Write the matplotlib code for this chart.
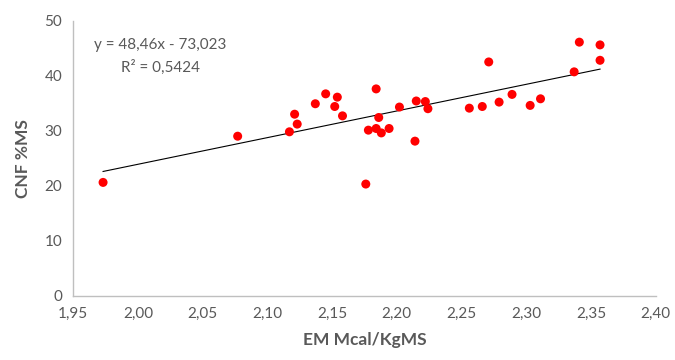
import matplotlib
matplotlib.use('Agg')
import matplotlib.pyplot as plt
import numpy as np

plt.rcParams['font.family'] = ['Lato', 'DejaVu Sans']

# EM (Mcal/kg MS) vs CNF (% MS)
em = [1.973, 2.077, 2.117, 2.123, 2.121, 2.137, 2.145, 2.154, 2.152, 2.158,
      2.176, 2.178, 2.184, 2.184, 2.186, 2.188, 2.194, 2.202, 2.214, 2.215,
      2.222, 2.224, 2.256, 2.266, 2.271, 2.279, 2.289, 2.303, 2.311, 2.337,
      2.341, 2.357, 2.357]
cnf = [20.6, 29.0, 29.8, 31.2, 33.0, 34.9, 36.7, 36.1, 34.4, 32.7,
       20.3, 30.1, 30.4, 37.6, 32.4, 29.6, 30.4, 34.3, 28.1, 35.4,
       35.3, 34.0, 34.1, 34.4, 42.5, 35.2, 36.6, 34.6, 35.8, 40.7,
       46.1, 45.6, 42.8]

slope = 48.46
intercept = -73.023
r2 = 0.5424

xticks = [1.95, 2.00, 2.05, 2.10, 2.15, 2.20, 2.25, 2.30, 2.35, 2.40]
yticks = [0, 10, 20, 30, 40, 50]

grey = '#595959'

fig = plt.figure(figsize=(6.75, 3.6), dpi=100)
ax = fig.add_axes([0.1086, 0.1786, 0.8628, 0.7639])

xs = np.array([min(em), max(em)])
ax.plot(xs, slope * xs + intercept, color='black', lw=0.8, zorder=2)
ax.scatter(em, cnf, s=42, color='#FF0000', edgecolors='none', zorder=3)

ax.set_xlim(1.95, 2.40)
ax.set_ylim(0, 50)
ax.set_xticks(xticks)
ax.set_xticklabels([f'{v:.2f}'.replace('.', ',') for v in xticks])
ax.set_yticks(yticks)
ax.tick_params(length=0, labelsize=11, labelcolor=grey, pad=8)

for s in ['top', 'right']:
    ax.spines[s].set_visible(False)
for s in ['left', 'bottom']:
    ax.spines[s].set_color('#BFBFBF')
    ax.spines[s].set_linewidth(1)

ax.set_xlabel('EM Mcal/KgMS', fontsize=12.5, fontweight='bold', color=grey, labelpad=8)
ax.set_ylabel('CNF %MS', fontsize=12.5, fontweight='bold', color=grey, labelpad=10)

eq = f'y = {slope:.2f}x - {abs(intercept):.3f}'.replace('.', ',')
ax.text(2.017, 45.6, eq, fontsize=11, color=grey, ha='center', va='center')
ax.text(2.017, 41.6, f'R² = {r2:.4f}'.replace('.', ','), fontsize=11,
        color=grey, ha='center', va='center')

fig.savefig('out.png', dpi=100)
